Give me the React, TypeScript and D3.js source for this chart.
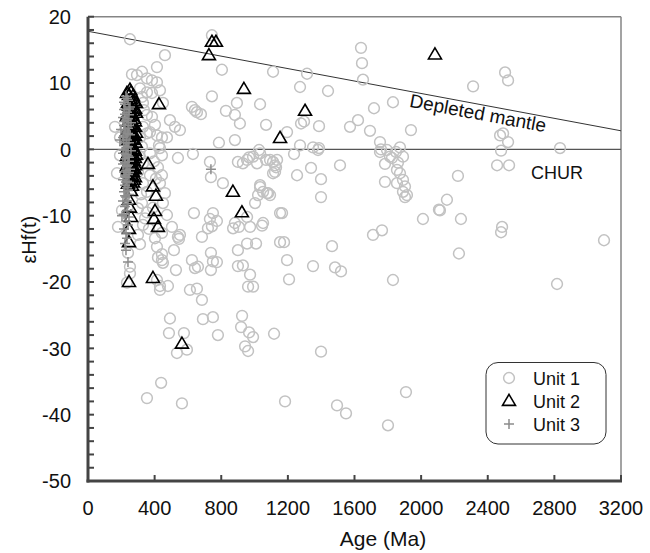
import React from "react";
import * as d3 from "d3";

const xTicks = [0, 400, 800, 1200, 1600, 2000, 2400, 2800, 3200];
const yTicks = [-50, -40, -30, -20, -10, 0, 10, 20];
const yMinor = d3.range(-50, 21, 2);

const depletedMantle: [number, number][] = [[0, 17.8], [3200, 2.8]];
const chur: [number, number][] = [[0, 0], [3200, 0]];

const unit1: [number, number][] = [
  [1639,15.3],[1645,13.0],[1651,10.5],[2312,9.5],[2504,11.6],[2522,10.4],[1831,7.1],[1717,6.2],[1939,2.9],[1621,4.4],[1573,3.4],[1693,2.8],
  [1753,1.1],[1759,0],[1795,-0.1],[1813,-1.1],[1873,0.3],[1849,-0.4],[1891,-1.1],[1861,-2.0],[1855,-3.1],[1873,-3.6],[1891,-4.6],[1903,-5.6],
  [1891,-6.4],[1915,-6.9],[1783,-4.9],[1855,-5.1],[1903,-7.2],[1753,-0.4],[1783,-2.2],[1825,-1.3],
  [2221,-4.0],[2155,-7.6],[2113,-9.2],[2239,-10.5],[2486,-11.7],[2480,-12.5],[2227,-15.7],[3098,-13.7],[2816,-20.3],
  [2474,2.1],[2492,2.4],[2522,1.1],[2480,-0.2],[2456,-2.4],[2528,-2.4],[2834,0.2],
  [1255,-3.9],[1339,-2.8],[1399,-4.5],[1513,-2.4],[1237,-0.7],[1381,-0.1],[1111,-1.9],[1135,-1.6],[1123,-3.4],[1399,-7.2],[1093,-6.9],
  [1165,-9.6],[1177,-14.0],[1195,-16.7],[1207,-19.6],[1351,-17.6],[1465,-14.6],[1483,-17.8],[1519,-18.4],[1711,-12.9],[1765,-12.2],
  [1831,-19.7],[2011,-10.5],[2107,-9.1],
  [1117,-27.8],[1399,-30.5],[1183,-38.0],[1495,-38.6],[1549,-39.8],[1909,-36.6],[1801,-41.6],
  [1111,11.7],[1315,11.4],[1273,9.4],[1441,8.8],[1033,6.8],[1069,3.7],[1195,2.6],[1273,0.6],[1351,0.3],[1387,0.2],[1387,3.5],[1279,3.9],[1297,4.2],
  [439,-35.2],[354,-37.5],[564,-38.3],[492,-25.5],[486,-27.7],[576,-27.7],[534,-30.7],[594,-30.2],[690,-25.6],[750,-25.3],[780,-28.0],
  [925,-25.1],[919,-26.8],[967,-27.6],[991,-28.3],[943,-29.7],[961,-30.4],
  [612,-21.2],[654,-21.0],[684,-22.7],[528,-18.2],[432,-20.6],[480,-20.6],[624,-16.7],[642,-17.9],[738,-15.6],[774,-17.0],[750,-16.9],
  [738,-18.2],[900,-17.6],[973,-18.9],[991,-20.7],[961,-20.7],[900,-15.2],[955,-14.2],[1009,-14.2],[1045,-11.5],[871,-11.9],[750,-9.6],
  [732,-10.5],[774,-10.8],[744,-11.6],[636,-9.6],[684,-13.2],[540,-13.2],[546,-13.5],[516,-15.2],[420,-16.3],[444,-16.7],[414,-14.7],
  [1153,-9.6],[1153,-14.0],[660,-17.7],[930,-17.5],
  [414,12.4],[804,12.0],[744,8.0],[624,6.4],[642,5.9],[678,5.3],[828,5.8],[894,7.0],[882,5.2],[912,3.9],[552,2.9],[786,1.0],[882,1.4],
  [630,-0.7],[540,-1.3],[732,-1.9],[738,-4.2],[810,-5.1],[900,-1.9],[930,-2.1],[955,-1.6],[967,-1.2],[1027,-0.1],[1069,-1.6],[1129,-2.7],
  [1033,-5.7],[1075,-6.6],[1003,-8.1],[955,-10.2],[973,-11.7],[882,-11.1],[906,-11.7],[1051,-11.1],[720,-11.9],
  [252,16.6],[462,14.2],[744,17.2],
  [991,-1.1],[1033,-0.6],[1015,-2.1],[1093,-1.6],[1123,-2.4],[1111,-3.6],[1033,-5.4],[1051,-6.4],[1081,-6.6],[1021,-6.9],
  [264,11.3],[294,11.2],[324,11.7],[354,10.7],[384,10.4],[414,10.1],[312,9.2],[354,8.6],[432,8.9],[324,7.9],[330,7.0],[336,5.9],
  [354,5.2],[384,4.9],[402,3.7],[414,2.1],[444,1.8],[426,0.6],[354,2.4],[162,3.4],[192,1.8],[192,-0.9],[654,5.6],
  [384,8.5],[330,3.4],[372,2.6],[324,0.4],[432,0.2],[372,-0.6],[444,-0.9],[330,-2.1],[420,-2.7],[300,-3.4],[372,-3.9],[444,-3.9],
  [330,-5.1],[432,-5.1],[354,-6.4],[462,-6.6],[324,-8.1],[450,-8.1],[354,-9.5],[474,-9.9],[504,-11.7],[330,-11.4],[444,-12.6],
  [552,-12.9],[300,-12.9],[444,-15.8],[450,-17.1],[252,-17.7],[432,-21.2],
  [174,-3.6],[204,-9.2],[180,-11.7],[252,-18.7],[240,-15.6],[414,-19.7],[234,-20.1],
  [450,7.0],[492,4.4],[474,1.8],[522,3.4],
  [306,-1.0],[318,-6.8],[396,-1.8],[408,-4.4],[390,-8.8],[342,-10.4],[300,-8.9],[312,-14.3],[366,-12.0],[402,-13.4],[312,1.8]
];

const unit2: [number, number][] = [
  [2083,14.3],[726,14.2],[744,16.2],[768,16.2],[426,6.8],[936,9.1],[1153,1.7],[1303,5.8],[870,-6.4],[924,-9.5],[564,-29.3],
  [360,-2.2],[390,-5.6],[408,-7.0],[402,-9.3],[396,-10.5],[420,-11.7],[246,-7.6],[246,-14.0],[246,-20.0],[390,-19.4],
  [252,9.0],[246,8.2],[258,7.6],[240,7.0],[264,6.8],[252,6.2],[270,5.8],[240,5.4],[258,5.0],[276,4.6],[246,4.2],[264,3.8],
  [282,3.4],[240,3.0],[258,2.6],[270,2.2],[246,1.8],[276,1.4],[252,1.0],[264,0.6],[240,0.2],[282,-0.2],[258,-0.6],[270,-1.0],
  [246,-1.4],[276,-1.8],[252,-2.2],[264,-2.6],[240,-3.0],[270,-3.4],[258,-3.8],[246,-4.2],[276,-4.6],
  [234,8.5],[270,8.0],[288,7.0],[234,5.0],[288,5.5],[234,2.0],[288,2.5],[234,-1.0],[288,-0.8],[234,-2.5],[282,-3.0],[240,-5.2],
  [264,-5.5],[252,-8.8],[258,-10.2],[246,-12.0],
  [258,8.6],[276,7.3],[246,6.6],[282,6.1],[264,5.3],[252,4.7],[282,4.2],[270,3.6],[252,3.2],[282,2.0],[264,1.6],[240,1.3],[286,1.0],
  [252,0.4],[276,0.0],[264,-0.3],[240,-0.7],[282,-1.3],[258,-1.7],[246,-2.0],[282,-2.4],[270,-2.8],[252,-3.2],[264,-4.0],[282,-4.2],
  [252,-4.8],[270,-5.0],[258,-6.3]
];

const unit3: [number, number][] = [
  [228,8.0],[240,7.4],[222,6.8],[252,6.4],[216,6.0],[234,5.6],[246,5.2],[210,4.8],[228,4.4],[258,4.0],[216,3.6],[240,3.2],
  [198,3.0],[228,2.6],[252,2.2],[210,1.8],[234,1.4],[192,1.4],[246,1.0],[216,0.6],[228,0.2],[258,-0.2],[210,-0.6],[240,-1.0],
  [222,-1.4],[246,-1.8],[210,-2.2],[234,-2.6],[252,-3.0],[216,-3.4],[240,-3.8],[228,-4.2],[210,-4.6],[246,-5.0],[222,-5.4],
  [234,-5.8],[216,-6.4],[246,-6.8],[228,-7.2],[210,-7.8],[240,-8.2],[222,-8.6],[234,-9.2],[216,-9.8],[246,-10.2],[204,-10.0],
  [228,-10.8],[240,-11.4],[216,-12.0],[228,-12.6],[234,-13.4],[222,-14.2],[228,-15.2],[240,-17.0],[738,-3.0],
  [234,7.7],[216,7.1],[246,6.1],[222,5.3],[240,4.6],[216,4.2],[246,3.6],[222,2.9],[240,2.4],[216,2.0],[228,1.0],[240,0.4],[216,-0.1],
  [228,-0.8],[246,-1.2],[222,-2.0],[240,-2.4],[228,-3.2],[246,-3.5],[222,-4.0],[234,-4.8],[240,-6.2],[222,-7.0],[234,-7.8]
];

const legendItems = ["Unit 1", "Unit 2", "Unit 3"];

const W = 650, H = 553;
const x = d3.scaleLinear().domain([0, 3200]).range([88, 621]);
const y = d3.scaleLinear().domain([-50, 20]).range([481, 16.7]);
const line = d3.line<[number, number]>().x(d => x(d[0])).y(d => y(d[1]));
const FONT = "'Liberation Sans', Arial, sans-serif";

function Triangle({ cx, cy, s = 13 }: { cx: number; cy: number; s?: number }) {
  const h = s * 0.85;
  const p = `M${cx},${cy - h * 0.6}L${cx + s / 2},${cy + h * 0.4}L${cx - s / 2},${cy + h * 0.4}Z`;
  return <path d={p} fill="none" stroke="#000" strokeWidth={1.6} strokeLinejoin="miter" />;
}

function Cross({ cx, cy, s = 10 }: { cx: number; cy: number; s?: number }) {
  return (
    <path d={`M${cx - s / 2},${cy}H${cx + s / 2}M${cx},${cy - s / 2}V${cy + s / 2}`} stroke="#8c8c8c" strokeWidth={1.5} />
  );
}

export default function App() {
  const x0 = x(0), x1 = x(3200), y0 = y(-50), y1 = y(20);
  const angle = (Math.atan2(y(depletedMantle[1][1]) - y(depletedMantle[0][1]), x1 - x0) * 180) / Math.PI;
  return (
    <svg width={W} height={H} style={{ position: "absolute", left: 0, top: 0, background: "#fff" }} fontFamily={FONT}>
      <rect width={W} height={H} fill="#fff" />
      <defs>
        <clipPath id="plot">
          <rect x={x0} y={y1} width={x1 - x0} height={y0 - y1} />
        </clipPath>
      </defs>
      <line x1={x0} x2={x1} y1={y1} y2={y1} stroke="#858585" strokeWidth={1.5} />
      <line x1={x1} x2={x1} y1={y1} y2={y0} stroke="#858585" strokeWidth={1.5} />
      <path d={line(chur) || ""} stroke="#555" strokeWidth={1.3} fill="none" />
      <path d={line(depletedMantle) || ""} stroke="#333" strokeWidth={1} fill="none" />
      <g clipPath="url(#plot)">
        {unit1.map((d, i) => (
          <circle key={"a" + i} cx={x(d[0])} cy={y(d[1])} r={5.4} fill="none" stroke="#c2c2c2" strokeWidth={1.5} />
        ))}
        {unit2.map((d, i) => (
          <Triangle key={"b" + i} cx={x(d[0])} cy={y(d[1])} />
        ))}
        {unit3.map((d, i) => (
          <Cross key={"c" + i} cx={x(d[0])} cy={y(d[1])} />
        ))}
      </g>
      {yMinor.map(v => (
        <line key={"ym" + v} x1={x0} x2={x0 + 6} y1={y(v)} y2={y(v)} stroke="#444" strokeWidth={2} />
      ))}
      {xTicks.map(v => (
        <line key={"xt" + v} x1={x(v)} x2={x(v)} y1={y0} y2={y0 - 6} stroke="#444" strokeWidth={2} />
      ))}
      <line x1={x0} x2={x0} y1={y1} y2={y0 + 1.5} stroke="#444" strokeWidth={3} />
      <line x1={x0 - 1.5} x2={x1 + 1} y1={y0} y2={y0} stroke="#444" strokeWidth={3} />
      {yTicks.map(v => (
        <text key={"yl" + v} x={71} y={y(v)} dy="0.36em" textAnchor="end" fontSize={20} fill="#111">
          {v}
        </text>
      ))}
      {xTicks.map(v => (
        <text key={"xl" + v} x={x(v)} y={515} textAnchor="middle" fontSize={20} fill="#111">
          {v}
        </text>
      ))}
      <text x={383} y={546} textAnchor="middle" fontSize={21} fill="#111">Age (Ma)</text>
      <text transform={`translate(36,${y(-10) + 24}) rotate(-90)`} textAnchor="middle" fontSize={20} fill="#111">εHf(t)</text>
      <text transform={`translate(478,113) rotate(${angle})`} textAnchor="middle" dy="0.35em" fontSize={19} fill="#111">
        Depleted mantle
      </text>
      <text x={531} y={179} fontSize={18} fill="#111">CHUR</text>
      <rect x={486} y={362.5} width={120} height={81.5} rx={12} fill="#fff" stroke="#333" strokeWidth={1} />
      {legendItems.map((t, i) => {
        const cy = 378 + i * 23;
        return (
          <g key={t}>
            {i === 0 && <circle cx={509} cy={cy} r={5.4} fill="none" stroke="#c2c2c2" strokeWidth={1.5} />}
            {i === 1 && <Triangle cx={509} cy={cy} />}
            {i === 2 && <Cross cx={509} cy={cy} />}
            <text x={533} y={cy + 6.5} fontSize={18} fill="#111">{t}</text>
          </g>
        );
      })}
    </svg>
  );
}
